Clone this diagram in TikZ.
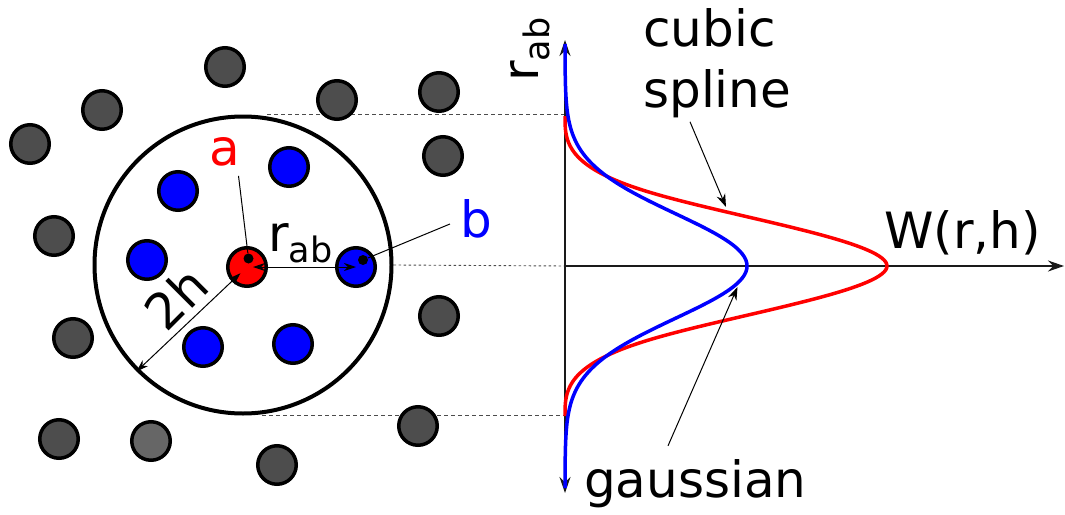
\documentclass[tikz,border=0pt]{standalone}
\usepackage{fontspec}
\setmainfont{DejaVu Sans}
\usetikzlibrary{arrows.meta,positioning}
\definecolor{grainfill}{HTML}{4D4D4D}
\definecolor{grainlt}  {HTML}{666666}
\definecolor{axisink}  {HTML}{1A1A1A}
\tikzset{
  >={Stealth[length=12pt,width=8pt]},
  % --- nodes
  lab/.style    = {font=\fontsize{50}{61}\selectfont, inner sep=0pt},
  grain/.style  = {circle, draw=black, line width=3.5pt, minimum size=38.5pt,
                   inner sep=0pt, fill=grainfill},
  nbr/.style    = {grain, fill=blue},
  self/.style   = {grain, fill=red},
  dot/.style    = {circle, fill=black, minimum size=10pt, inner sep=0pt},
  kernel/.style = {circle, draw=black, line width=4pt, minimum size=297pt,
                   inner sep=0pt},
  % --- edges
  guide/.style  = {draw=black!70, line width=0.9pt, dash pattern=on 4pt off 3pt},
  axisline/.style = {draw=axisink, line width=1.5pt,
                   >={Stealth[length=16pt,width=11pt]}},
  leader/.style = {draw=black, line width=1pt},
  pointer/.style= {-{Stealth[length=13pt,width=9pt]}, line width=1pt},
  kcurve/.style = {line width=3.5pt, line join=round},
}
\begin{document}
\begin{tikzpicture}[x=1pt, y=-1pt,
  declare function={
    wcs(\q)=(\q<1)*(1-1.5*\q*\q+0.75*\q*\q*\q)+(\q>=1)*0.25*(2-\q)*(2-\q)*(2-\q);
    wga(\r)=exp(-(\r/74)*(\r/74));
  }]
  \useasboundingbox (0,0) rectangle (1065,514);

  % smoothing length circle
  \node[kernel] (kern) at (243,265) {};

  % axes of the kernel plot
  \coordinate (o)    at (565,266);
  \coordinate (ytop) at (565,40);
  \coordinate (ybot) at (565,493);
  \coordinate (xend) at (1064,266);
  \draw[guide] ([xshift=24pt]kern.north) -- (o |- kern.north);
  \draw[guide, dash pattern=on 2.5pt off 2.5pt] (kern.east) -- (o);
  \draw[guide] ([xshift=19pt]kern.south) -- (o |- kern.south);
  \draw[axisline, <->] (ybot) -- (ytop);
  \draw[axisline, ->] (o) -- (xend);

  % particles outside the kernel
  \foreach \gx/\gy [count=\i] in {225/67, 102/110, 30/144, 337/100, 439/92,
      443/156, 54/236, 73/338, 439/316, 59/439, 277/465, 418/426}
    \node[grain] (g\i) at (\gx,\gy) {};
  \node[grain, fill=grainlt] (g13) at (151,441) {};

  % neighbours inside the kernel
  \foreach \nx/\ny [count=\i] in {178/191, 289/167, 147/260, 203/347, 293/344}
    \node[nbr] (n\i) at (\nx,\ny) {};
  \node[self] (pa) at (247,267) {};
  \node[nbr]  (pb) at (356,267) {};
  \node[dot] (da) at (248.5,258.5) {};
  \node[dot] (db) at (363,260) {};

  % distance and radius
  \draw[<->, line width=1pt, shorten <=6pt] (pa.center) -- (pb.center);
  \draw[<->, line width=1pt, shorten <=9pt] (pa.center) -- (kern.225);

  % labels
  \node[lab, text=red, anchor=base] (lbla) at (225,165) {a};
  \node[lab, text=blue, anchor=base] (lblb) at (476,237) {b};
  \node[lab, anchor=base west] (lblr) at (268,251)
    {r\raisebox{-11pt}{\fontsize{35}{40}\selectfont ab}};
  \node[lab, rotate=45] (lblh) at (176,298) {2h};
  \draw[leader] ([xshift=-2pt,yshift=-10pt]lbla.south east) -- (da);
  \draw[leader] ([xshift=-10pt,yshift=13pt]lblb.base west) -- (db);

  % kernel curves
  \draw[kcurve, red] plot[domain=-150:150, samples=151, smooth]
    ({565+322*wcs(abs(\x)/75)}, {266+\x});
  \draw[kcurve, blue] plot[domain=-222:222, samples=151, smooth]
    ({565+182*wga(\x)}, {266+\x});

  % axis and curve labels
  \node[lab, rotate=90, anchor=base west] (lblax) at (538,82)
    {r\raisebox{-11pt}{\fontsize{35}{40}\selectfont ab}};
  \node[lab, anchor=base west] (lblw) at (884,248) {W(r,h)};
  \node[lab, align=left, anchor=north west] (lblcs) at (643,8) {cubic\\spline};
  \node[lab, anchor=base west] (lblga) at (584,497) {gaussian};
  \coordinate (cstip) at (726,207);
  \coordinate (gatip) at (737.5,287);
  \draw[pointer] ([xshift=47pt,yshift=-4pt]lblcs.south west) -- (cstip);
  \draw[pointer] ([xshift=84pt,yshift=13pt]lblga.north west) -- (gatip);
\end{tikzpicture}
\end{document}
